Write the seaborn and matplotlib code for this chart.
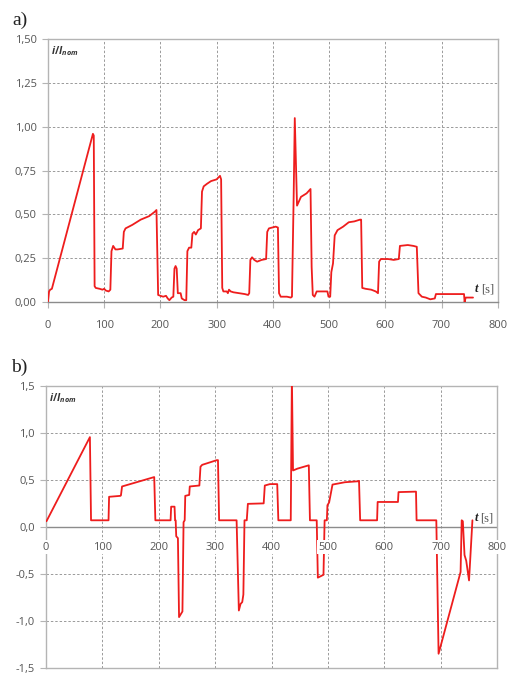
import matplotlib
matplotlib.use("Agg")
import matplotlib.pyplot as plt
import seaborn as sns
import pandas as pd

# ---------------- data ----------------
t_a = [0, 2, 4, 7, 80, 81.5, 83, 85, 92, 97, 100, 103, 108, 111, 113, 116, 120, 124, 133, 135, 138,
       150, 165, 180, 190, 193, 195, 196, 200, 205, 210, 213, 216, 220, 223, 225, 227, 229, 231, 236,
       238, 243, 246, 248, 251, 255, 257, 260, 263, 267, 272, 274, 277, 283, 290, 300, 306, 308, 310,
       312, 318, 320, 322, 325, 330, 340, 350, 356, 358, 360, 363, 367, 372, 380, 388, 390, 393, 405,
       409, 411, 414, 425, 432, 434, 437, 439, 441, 443, 450, 460, 467, 469, 471, 474, 478, 490, 497,
       499, 502, 504, 507, 510, 515, 525, 535, 545, 555, 557, 559, 565, 575, 583, 587, 589, 592, 605,
       615, 624, 626, 640, 650, 656, 659, 665, 672, 680, 688, 690, 740, 741, 743, 756]
i_a = [0.0, 0.06, 0.07, 0.075, 0.96, 0.95, 0.09, 0.08, 0.075, 0.07, 0.075, 0.065, 0.06, 0.07, 0.29,
       0.32, 0.30, 0.30, 0.305, 0.40, 0.42, 0.44, 0.47, 0.49, 0.515, 0.525, 0.20, 0.04, 0.035, 0.03,
       0.035, 0.02, 0.01, 0.025, 0.03, 0.19, 0.205, 0.19, 0.05, 0.05, 0.02, 0.01, 0.01, 0.29, 0.31,
       0.31, 0.39, 0.40, 0.385, 0.41, 0.42, 0.63, 0.66, 0.675, 0.69, 0.70, 0.72, 0.70, 0.08, 0.06,
       0.06, 0.05, 0.07, 0.06, 0.055, 0.05, 0.045, 0.04, 0.05, 0.24, 0.255, 0.24, 0.23, 0.24, 0.245,
       0.40, 0.42, 0.43, 0.425, 0.05, 0.03, 0.03, 0.025, 0.03, 0.60, 1.05, 0.80, 0.55, 0.60, 0.62,
       0.645, 0.20, 0.04, 0.03, 0.06, 0.06, 0.06, 0.03, 0.03, 0.17, 0.22, 0.38, 0.41, 0.43, 0.455,
       0.46, 0.47, 0.47, 0.08, 0.075, 0.07, 0.06, 0.05, 0.23, 0.245, 0.245, 0.24, 0.245, 0.32, 0.325,
       0.32, 0.315, 0.05, 0.03, 0.025, 0.015, 0.02, 0.045, 0.045, 0.0, 0.025, 0.025]

t_b = [1, 78, 80, 111, 112, 132, 133, 135, 192, 194, 221, 222, 228, 229, 230, 231, 234, 236, 240,
       242, 244, 246, 247, 254, 255, 272, 274, 277, 303, 305, 307, 338, 342, 345, 348, 350, 352, 356,
       358, 386, 388, 397, 410, 412, 434, 436, 438, 446, 466, 468, 480, 482, 492, 494, 498, 499, 501,
       502, 508, 530, 553, 555, 557, 587, 588, 624, 625, 656, 657, 692, 696, 735, 737, 739, 742, 745,
       750, 756]
i_b = [0.06, 0.955, 0.07, 0.07, 0.32, 0.33, 0.335, 0.43, 0.53, 0.07, 0.07, 0.215, 0.215, 0.07, 0.07,
       -0.10, -0.12, -0.96, -0.92, -0.90, 0.05, 0.07, 0.33, 0.34, 0.43, 0.44, 0.64, 0.66, 0.71, 0.71,
       0.07, 0.07, -0.89, -0.82, -0.80, -0.72, 0.07, 0.07, 0.245, 0.25, 0.44, 0.455, 0.455, 0.07,
       0.07, 1.60, 0.60, 0.62, 0.655, 0.07, 0.07, -0.54, -0.51, 0.07, 0.07, 0.23, 0.25, 0.26, 0.45,
       0.475, 0.485, 0.49, 0.07, 0.07, 0.265, 0.265, 0.37, 0.375, 0.07, 0.07, -1.35, -0.48, 0.07,
       0.06, -0.30, -0.36, -0.57, 0.07]

x_ticks = [0, 100, 200, 300, 400, 500, 600, 700, 800]
y_ticks_a = [0.0, 0.25, 0.5, 0.75, 1.0, 1.25, 1.5]
y_ticks_b = [-1.5, -1.0, -0.5, 0.0, 0.5, 1.0, 1.5]
y_labels_a = ["0,00", "0,25", "0,50", "0,75", "1,00", "1,25", "1,50"]
y_labels_b = ["-1,5", "-1,0", "-0,5", "0,0", "0,5", "1,0", "1,5"]
x_labels = ["0", "100", "200", "300", "400", "500", "600", "700", "800"]

# ---------------- style ----------------
sns.set_style("white")
plt.rcParams["font.family"] = ["Open Sans", "DejaVu Sans"]
plt.rcParams["mathtext.fontset"] = "custom"
plt.rcParams["mathtext.it"] = "Open Sans:italic:bold"
plt.rcParams["mathtext.rm"] = "Open Sans:bold"

RED = "#ee1d1d"
GRID = "#9a9a9a"
SPINE = "#b4b4b4"
TXT = "#555555"

fig = plt.figure(figsize=(5.10, 6.77), dpi=100)
ax_a = fig.add_axes([0.094, 0.554, 0.882, 0.388])
ax_b = fig.add_axes([0.090, 0.0135, 0.885, 0.4165])

df_a = pd.DataFrame({"t": t_a, "i": i_a})
df_b = pd.DataFrame({"t": t_b, "i": i_b})

sns.lineplot(data=df_a, x="t", y="i", ax=ax_a, color=RED, lw=1.3,
             estimator=None, sort=False, zorder=3)
sns.lineplot(data=df_b, x="t", y="i", ax=ax_b, color=RED, lw=1.3,
             estimator=None, sort=False, zorder=3)


def style(ax, yt, ylab):
    ax.set_xlim(0, 800)
    ax.set_ylim(yt[0], yt[-1])
    ax.set_xticks(x_ticks)
    ax.set_yticks(yt)
    ax.set_yticklabels(ylab)
    ax.set_xlabel("")
    ax.set_ylabel("")
    ax.grid(True, color=GRID, ls=(0, (2.5, 2)), lw=0.7)
    for s in ax.spines.values():
        s.set_color(SPINE)
        s.set_linewidth(1.0)
    ax.tick_params(axis="y", which="major", length=4, width=0.8, color=SPINE,
                   labelsize=8, labelcolor=TXT, pad=4, left=True)
    ax.text(0.006, 0.955, r"$i/I_{nom}$", transform=ax.transAxes, fontsize=7.5,
            color="#333333", ha="left", va="center")


style(ax_a, y_ticks_a, y_labels_a)
ax_a.set_xticklabels(x_labels)
ax_a.tick_params(axis="x", length=4, width=0.8, color=SPINE, labelsize=8,
                 labelcolor=TXT, pad=9, bottom=True)
ax_a.spines["bottom"].set_color("#8c8c8c")
ax_a.text(0.957, 0.025, "t", transform=ax_a.transAxes, fontsize=9, fontweight="bold",
          fontstyle="italic", family="Liberation Serif", color="#222222", ha="right", va="bottom")
ax_a.text(0.962, 0.025, "[s]", transform=ax_a.transAxes, fontsize=9,
          family="Liberation Serif", color=TXT, ha="left", va="bottom")

style(ax_b, y_ticks_b, y_labels_b)
ax_b.tick_params(axis="x", labelbottom=False, bottom=False)
ax_b.axhline(0, color="#8c8c8c", lw=1.0, zorder=2)
for tv, tl in zip(x_ticks, x_labels):
    ax_b.annotate(tl, xy=(tv, 0), xytext=(0, -14.5), textcoords="offset points",
                  ha="center", va="center", fontsize=8, color=TXT, zorder=5,
                  annotation_clip=False,
                  bbox=dict(boxstyle="square,pad=0.15", fc="white", ec="none"))
ax_b.text(0.957, 0.51, "t", transform=ax_b.transAxes, fontsize=9, fontweight="bold",
          fontstyle="italic", family="Liberation Serif", color="#222222", ha="right", va="bottom")
ax_b.text(0.962, 0.51, "[s]", transform=ax_b.transAxes, fontsize=9,
          family="Liberation Serif", color=TXT, ha="left", va="bottom")

fig.text(0.025, 0.970, "a)", fontsize=14, family="Liberation Serif", color="#222222",
         ha="left", va="center")
fig.text(0.022, 0.458, "b)", fontsize=14, family="Liberation Serif", color="#222222",
         ha="left", va="center")

fig.savefig("out.png", dpi=100)
